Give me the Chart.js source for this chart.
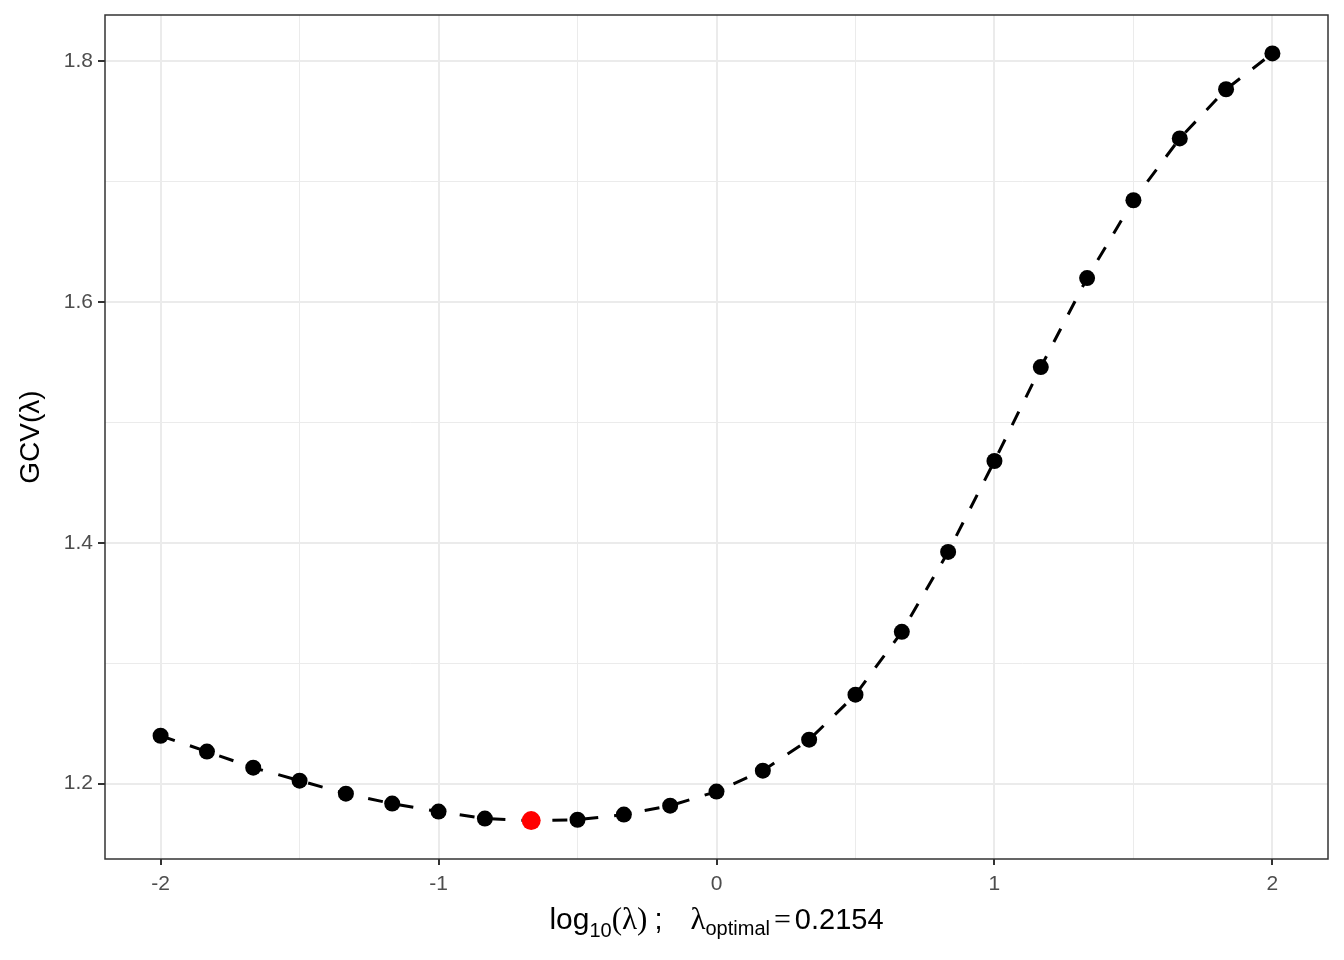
<!DOCTYPE html>
<html>
<head>
<meta charset="utf-8">
<script src="https://cdn.jsdelivr.net/npm/chart.js@4"></script>
<style>
  html, body { margin: 0; padding: 0; background: #fff; }
  #wrap { width: 1344px; height: 960px; }
</style>
</head>
<body>
<div id="wrap"><canvas id="gcv-chart" width="1344" height="960"></canvas></div>
<script>
// log10(lambda) grid and GCV values
const logLambda = [-2, -1.8333, -1.6667, -1.5, -1.3333, -1.1667, -1, -0.8333, -0.6667, -0.5, -0.3333, -0.1667,
  0, 0.1667, 0.3333, 0.5, 0.6667, 0.8333, 1, 1.1667, 1.3333, 1.5, 1.6667, 1.8333, 2];
const gcv = [1.2398, 1.2266, 1.2133, 1.2025, 1.1917, 1.1834, 1.1768, 1.1710, 1.1693, 1.1700, 1.1743, 1.1817,
  1.1934, 1.2108, 1.2365, 1.2739, 1.3261, 1.3925, 1.4680, 1.5460, 1.6200, 1.6846, 1.7360, 1.7768, 1.8066];

const xMajor = [-2, -1, 0, 1, 2];
const xMinor = [-1.5, -0.5, 0.5, 1.5];
const yMajor = [1.2, 1.4, 1.6, 1.8];
const yMinor = [1.3, 1.5, 1.7];

const bestIdx = gcv.indexOf(Math.min(...gcv));
const lambdaOpt = Math.pow(10, logLambda[bestIdx]).toFixed(4);

const SANS = '"Liberation Sans", Arial, sans-serif';
const SERIF = '"Liberation Serif", "Times New Roman", serif';

function isMajor(list, v) {
  return list.some(m => Math.abs(m - v) < 1e-9);
}

// panel border all round, like theme_bw
const panelBorder = {
  id: 'panelBorder',
  afterDraw(chart) {
    const { ctx, chartArea: a } = chart;
    ctx.save();
    ctx.strokeStyle = '#333333';
    ctx.lineWidth = 1.5;
    ctx.strokeRect(a.left, a.top, a.right - a.left, a.bottom - a.top);
    ctx.restore();
  }
};

// x axis title with subscripts (plotmath style)
const xTitle = {
  id: 'xTitle',
  afterDraw(chart) {
    const ctx = chart.ctx;
    const a = chart.chartArea;
    const parts = [
      { t: 'log', f: '30px ' + SANS, dy: 0 },
      { t: '10', f: '20px ' + SANS, dy: 8 },
      { t: '(λ)', f: '31px ' + SERIF, dy: 0 },
      { gap: 7 },
      { t: ';', f: '29px ' + SANS, dy: 0 },
      { gap: 28 },
      { t: 'λ', f: '31px ' + SERIF, dy: 0 },
      { t: 'optimal', f: '20px ' + SANS, dy: 6 },
      { gap: 4 },
      { t: '=', f: '30px ' + SERIF, dy: 0 },
      { gap: 4 },
      { t: lambdaOpt, f: '29px ' + SANS, dy: 0 }
    ];
    ctx.save();
    ctx.fillStyle = '#000';
    ctx.textBaseline = 'alphabetic';
    ctx.textAlign = 'left';
    let total = 0;
    parts.forEach(p => {
      if (p.gap) { p.w = p.gap; } else { ctx.font = p.f; p.w = ctx.measureText(p.t).width; }
      total += p.w;
    });
    let x = (a.left + a.right) / 2 - total / 2;
    const base = 929;
    parts.forEach(p => {
      if (!p.gap) {
        ctx.font = p.f;
        ctx.fillText(p.t, x, base + p.dy);
      }
      x += p.w;
    });
    ctx.restore();
  }
};

new Chart(document.querySelector('#gcv-chart').getContext('2d'), {
  type: 'line',
  data: {
    datasets: [{
      data: logLambda.map((x, i) => ({ x: x, y: gcv[i] })),
      borderColor: '#000',
      borderWidth: 3,
      borderDash: [15, 16],
      tension: 0,
      pointRadius: ctx => ctx.dataIndex === bestIdx ? 9.5 : 8,
      pointBackgroundColor: ctx => ctx.dataIndex === bestIdx ? '#FF0000' : '#000',
      pointBorderColor: ctx => ctx.dataIndex === bestIdx ? '#FF0000' : '#000',
      pointBorderWidth: 0
    }]
  },
  options: {
    responsive: false,
    animation: false,
    layout: { padding: { left: 0, top: 15, right: 16, bottom: 0 } },
    plugins: {
      legend: { display: false },
      tooltip: { enabled: false }
    },
    scales: {
      x: {
        type: 'linear',
        min: -2.2,
        max: 2.2,
        afterBuildTicks: scale => {
          scale.ticks = xMajor.concat(xMinor).sort((a, b) => a - b).map(v => ({ value: v }));
        },
        afterFit: scale => { scale.height = 101; scale.paddingLeft = 0; scale.paddingRight = 0; },
        border: { display: false },
        grid: {
          color: '#EBEBEB',
          lineWidth: ctx => isMajor(xMajor, ctx.tick.value) ? 2 : 1,
          tickLength: 6,
          tickWidth: 2,
          tickColor: ctx => isMajor(xMajor, ctx.tick.value) ? '#333333' : 'rgba(0,0,0,0)'
        },
        ticks: {
          autoSkip: false,
          maxRotation: 0,
          padding: 7,
          color: '#4D4D4D',
          font: { family: SANS, size: 21 },
          callback: v => isMajor(xMajor, v) ? String(v) : ''
        }
      },
      y: {
        type: 'linear',
        min: 1.1374,
        max: 1.8385,
        afterBuildTicks: scale => {
          scale.ticks = yMajor.concat(yMinor).sort((a, b) => a - b).map(v => ({ value: v }));
        },
        afterFit: scale => { scale.width = 105; scale.paddingTop = 0; scale.paddingBottom = 0; },
        border: { display: false },
        grid: {
          color: '#EBEBEB',
          lineWidth: ctx => isMajor(yMajor, ctx.tick.value) ? 2 : 1,
          tickLength: 7,
          tickWidth: 2,
          tickColor: ctx => isMajor(yMajor, ctx.tick.value) ? '#333333' : 'rgba(0,0,0,0)'
        },
        ticks: {
          autoSkip: false,
          padding: 5,
          color: '#4D4D4D',
          font: { family: SANS, size: 21 },
          callback: v => isMajor(yMajor, v) ? v.toFixed(1) : ''
        },
        title: {
          display: true,
          text: 'GCV(λ)',
          color: '#000',
          font: { family: SANS, size: 28 },
          padding: { top: 14, bottom: 0 }
        }
      }
    }
  },
  plugins: [panelBorder, xTitle]
});
</script>
</body>
</html>
